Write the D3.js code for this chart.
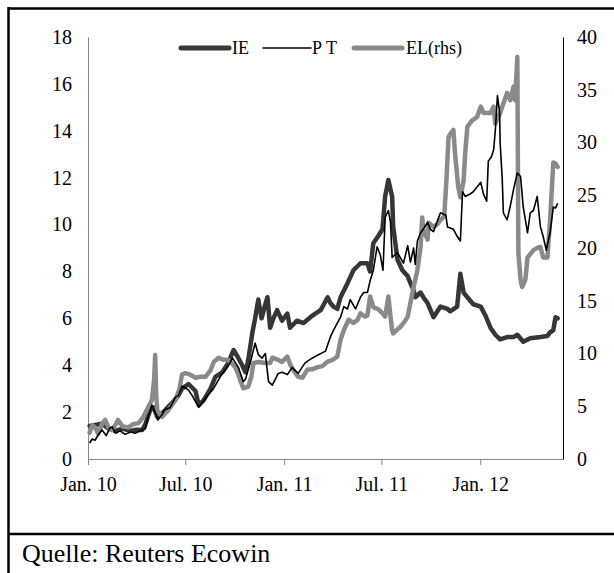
<!DOCTYPE html>
<html>
<head>
<meta charset="utf-8">
<script src="https://cdn.jsdelivr.net/npm/d3@7"></script>
<style>
  body { margin: 0; background: #fff; }
  text { font-family: "Liberation Serif", "Times New Roman", serif; fill: #000; }
</style>
</head>
<body>
<div id="chart"></div>
<script>
// Spreads, IE and PT on the left axis, EL on the right (rhs)
const ieData = [
  ["2010-01-04", 1.41], ["2010-01-14", 1.45], ["2010-01-27", 1.5], ["2010-02-08", 1.3],
  ["2010-02-21", 1.2], ["2010-03-06", 1.3], ["2010-03-21", 1.2], ["2010-04-01", 1.25],
  ["2010-04-12", 1.24], ["2010-04-18", 1.5], ["2010-04-27", 2.1], ["2010-05-03", 2.2],
  ["2010-05-10", 1.8], ["2010-05-19", 1.95], ["2010-05-29", 2.2], ["2010-06-07", 2.4],
  ["2010-06-18", 2.7], ["2010-06-25", 3.0], ["2010-07-07", 3.2], ["2010-07-20", 2.9],
  ["2010-07-26", 2.3], ["2010-08-04", 2.5], ["2010-08-17", 3.0], ["2010-08-26", 3.5],
  ["2010-09-08", 3.7], ["2010-09-19", 4.1], ["2010-09-29", 4.65], ["2010-10-08", 4.3],
  ["2010-10-15", 4.0], ["2010-10-21", 3.7], ["2010-10-26", 4.2], ["2010-11-03", 5.4],
  ["2010-11-08", 6.0], ["2010-11-14", 6.8], ["2010-11-20", 6.0], ["2010-11-27", 6.6],
  ["2010-12-01", 6.9], ["2010-12-06", 5.6], ["2010-12-12", 6.0], ["2010-12-19", 6.35],
  ["2010-12-28", 5.9], ["2011-01-07", 6.2], ["2011-01-12", 5.6], ["2011-01-25", 5.9],
  ["2011-02-06", 5.8], ["2011-02-19", 6.05], ["2011-02-28", 6.2], ["2011-03-10", 6.35],
  ["2011-03-23", 6.9], ["2011-03-28", 6.65], ["2011-04-03", 6.5], ["2011-04-10", 6.4],
  ["2011-04-16", 6.9], ["2011-04-29", 7.5], ["2011-05-10", 8.05], ["2011-05-23", 8.35],
  ["2011-06-05", 8.35], ["2011-06-10", 8.0], ["2011-06-16", 9.2], ["2011-06-25", 9.5],
  ["2011-07-03", 9.8], ["2011-07-08", 11.2], ["2011-07-14", 11.9], ["2011-07-18", 11.5],
  ["2011-07-21", 11.2], ["2011-07-23", 9.9], ["2011-07-31", 8.5], ["2011-08-09", 8.05],
  ["2011-08-19", 7.8], ["2011-08-24", 7.5], ["2011-08-30", 7.2], ["2011-09-02", 6.9],
  ["2011-09-12", 7.1], ["2011-09-17", 6.9], ["2011-09-25", 6.65], ["2011-10-06", 6.05],
  ["2011-10-19", 6.5], ["2011-11-01", 6.4], ["2011-11-06", 6.3], ["2011-11-19", 6.5],
  ["2011-11-25", 7.9], ["2011-12-01", 7.1], ["2011-12-08", 6.9], ["2011-12-19", 6.6],
  ["2012-01-02", 6.5], ["2012-01-11", 6.1], ["2012-01-20", 5.6], ["2012-01-29", 5.3],
  ["2012-02-07", 5.1], ["2012-02-20", 5.2], ["2012-03-03", 5.2], ["2012-03-10", 5.3],
  ["2012-03-21", 5.0], ["2012-04-03", 5.15], ["2012-04-22", 5.2], ["2012-05-05", 5.25],
  ["2012-05-10", 5.4], ["2012-05-16", 5.5], ["2012-05-20", 6.05], ["2012-05-24", 6.0]
];

const ptData = [
  ["2010-01-04", 0.68], ["2010-01-09", 0.85], ["2010-01-14", 0.8], ["2010-01-22", 1.1],
  ["2010-01-27", 1.24], ["2010-02-04", 1.0], ["2010-02-10", 1.3], ["2010-02-15", 1.37],
  ["2010-02-21", 1.1], ["2010-03-02", 1.2], ["2010-03-11", 1.05], ["2010-03-21", 1.15],
  ["2010-03-30", 1.1], ["2010-04-08", 1.2], ["2010-04-18", 1.3], ["2010-04-23", 1.8],
  ["2010-04-30", 2.3], ["2010-05-06", 2.0], ["2010-05-11", 1.66], ["2010-05-19", 1.9],
  ["2010-05-24", 2.1], ["2010-06-03", 2.2], ["2010-06-13", 2.65], ["2010-06-18", 2.7],
  ["2010-06-25", 3.1], ["2010-07-07", 2.95], ["2010-07-14", 2.7], ["2010-07-26", 2.2],
  ["2010-08-08", 2.6], ["2010-08-21", 2.95], ["2010-08-30", 3.3], ["2010-09-08", 3.65],
  ["2010-09-17", 3.9], ["2010-09-27", 4.3], ["2010-10-08", 3.9], ["2010-10-17", 3.3],
  ["2010-10-21", 3.4], ["2010-10-30", 4.1], ["2010-11-08", 4.95], ["2010-11-14", 4.45],
  ["2010-11-21", 4.3], ["2010-11-27", 4.5], ["2010-12-03", 3.3], ["2010-12-10", 3.15],
  ["2010-12-21", 3.65], ["2010-12-28", 3.7], ["2011-01-07", 3.6], ["2011-01-16", 3.9],
  ["2011-01-27", 3.65], ["2011-02-09", 4.1], ["2011-02-22", 4.3], ["2011-03-06", 4.45],
  ["2011-03-19", 4.6], ["2011-03-28", 5.2], ["2011-04-03", 5.5], ["2011-04-10", 5.8],
  ["2011-04-16", 6.05], ["2011-04-22", 6.5], ["2011-04-29", 6.4], ["2011-05-04", 6.8],
  ["2011-05-14", 6.4], ["2011-05-23", 6.9], ["2011-05-29", 7.1], ["2011-06-05", 7.1],
  ["2011-06-10", 7.6], ["2011-06-16", 8.05], ["2011-06-23", 9.05], ["2011-06-29", 8.7],
  ["2011-07-04", 8.05], ["2011-07-08", 10.3], ["2011-07-14", 10.6], ["2011-07-18", 10.1],
  ["2011-07-21", 8.6], ["2011-07-31", 8.8], ["2011-08-05", 8.6], ["2011-08-11", 8.35],
  ["2011-08-19", 9.1], ["2011-08-24", 8.4], ["2011-08-30", 9.0], ["2011-09-02", 8.3],
  ["2011-09-06", 9.3], ["2011-09-12", 9.65], ["2011-09-17", 9.8], ["2011-09-25", 10.1],
  ["2011-09-30", 9.8], ["2011-10-06", 9.7], ["2011-10-14", 10.2], ["2011-10-19", 10.5],
  ["2011-10-29", 10.4], ["2011-11-01", 9.9], ["2011-11-12", 9.8], ["2011-11-19", 9.5],
  ["2011-11-25", 9.3], ["2011-11-29", 11.4], ["2011-12-04", 11.2], ["2011-12-13", 11.3],
  ["2011-12-19", 11.4], ["2011-12-26", 11.6], ["2012-01-02", 11.8], ["2012-01-07", 11.3],
  ["2012-01-13", 11.0], ["2012-01-16", 12.7], ["2012-01-22", 12.9], ["2012-01-26", 13.2],
  ["2012-01-29", 14.0], ["2012-02-02", 15.5], ["2012-02-06", 14.8], ["2012-02-07", 13.5],
  ["2012-02-11", 11.9], ["2012-02-13", 10.5], ["2012-02-20", 10.2], ["2012-02-26", 10.8],
  ["2012-03-03", 11.5], ["2012-03-10", 12.2], ["2012-03-16", 12.05], ["2012-03-21", 10.75],
  ["2012-03-29", 9.65], ["2012-04-03", 10.5], ["2012-04-09", 10.6], ["2012-04-16", 11.2],
  ["2012-04-22", 9.9], ["2012-04-27", 9.5], ["2012-05-03", 8.9], ["2012-05-07", 9.35],
  ["2012-05-10", 9.65], ["2012-05-16", 10.75], ["2012-05-20", 10.7], ["2012-05-24", 10.9]
];

const elData = [
  ["2010-01-04", 2.5], ["2010-01-09", 3.2], ["2010-01-14", 3.0], ["2010-01-20", 2.4],
  ["2010-01-27", 3.3], ["2010-02-02", 3.7], ["2010-02-08", 3.0], ["2010-02-15", 2.75],
  ["2010-02-23", 3.4], ["2010-02-26", 3.7], ["2010-03-06", 3.1], ["2010-03-17", 3.0],
  ["2010-03-26", 3.3], ["2010-04-05", 3.4], ["2010-04-14", 4.0], ["2010-04-23", 4.9],
  ["2010-04-30", 5.6], ["2010-05-04", 7.5], ["2010-05-06", 9.85], ["2010-05-08", 6.0],
  ["2010-05-10", 4.6], ["2010-05-19", 4.0], ["2010-05-30", 4.6], ["2010-06-13", 5.6],
  ["2010-06-20", 6.6], ["2010-06-25", 8.0], ["2010-07-01", 8.15], ["2010-07-10", 8.0],
  ["2010-07-20", 7.7], ["2010-07-29", 7.8], ["2010-08-08", 7.8], ["2010-08-17", 8.4],
  ["2010-08-23", 9.2], ["2010-09-01", 9.6], ["2010-09-10", 9.4], ["2010-09-19", 9.4],
  ["2010-09-27", 9.0], ["2010-10-02", 8.7], ["2010-10-08", 8.0], ["2010-10-11", 7.5],
  ["2010-10-17", 6.7], ["2010-10-26", 6.85], ["2010-11-01", 7.8], ["2010-11-05", 9.1],
  ["2010-11-14", 9.2], ["2010-11-27", 9.1], ["2010-12-06", 9.1], ["2010-12-10", 9.6],
  ["2010-12-21", 9.4], ["2010-12-28", 9.2], ["2011-01-07", 9.7], ["2011-01-12", 9.0],
  ["2011-01-18", 8.45], ["2011-01-27", 7.8], ["2011-02-04", 7.7], ["2011-02-13", 8.45],
  ["2011-02-22", 8.5], ["2011-03-04", 8.7], ["2011-03-13", 8.8], ["2011-03-22", 9.2],
  ["2011-04-01", 9.4], ["2011-04-10", 9.7], ["2011-04-16", 11.3], ["2011-04-22", 12.2],
  ["2011-05-01", 13.2], ["2011-05-10", 12.9], ["2011-05-18", 13.2], ["2011-05-23", 13.8],
  ["2011-06-01", 13.5], ["2011-06-05", 13.6], ["2011-06-10", 15.4], ["2011-06-16", 14.4],
  ["2011-06-25", 14.2], ["2011-07-03", 13.8], ["2011-07-08", 13.5], ["2011-07-14", 15.4],
  ["2011-07-18", 13.5], ["2011-07-21", 12.2], ["2011-07-23", 11.9], ["2011-07-31", 12.3],
  ["2011-08-05", 12.5], ["2011-08-13", 13.0], ["2011-08-19", 13.5], ["2011-08-24", 14.8],
  ["2011-08-30", 16.3], ["2011-09-06", 17.9], ["2011-09-12", 20.1], ["2011-09-15", 22.9],
  ["2011-09-17", 21.7], ["2011-09-25", 20.8], ["2011-09-27", 22.4], ["2011-10-06", 22.0],
  ["2011-10-14", 22.3], ["2011-10-19", 22.65], ["2011-10-26", 23.0], ["2011-10-30", 26.4],
  ["2011-11-03", 30.5], ["2011-11-06", 30.8], ["2011-11-12", 31.2], ["2011-11-15", 29.0],
  ["2011-11-21", 25.8], ["2011-11-25", 24.8], ["2011-12-01", 26.4], ["2011-12-04", 29.0],
  ["2011-12-08", 31.5], ["2011-12-17", 32.1], ["2011-12-26", 32.4], ["2012-01-02", 33.4],
  ["2012-01-07", 32.8], ["2012-01-20", 32.8], ["2012-01-26", 33.4], ["2012-01-29", 31.8],
  ["2012-02-07", 32.8], ["2012-02-13", 33.7], ["2012-02-20", 34.7], ["2012-02-26", 34.0],
  ["2012-03-03", 35.3], ["2012-03-06", 34.0], ["2012-03-10", 38.1], ["2012-03-12", 19.5],
  ["2012-03-16", 17.0], ["2012-03-19", 16.3], ["2012-03-25", 17.0], ["2012-03-29", 19.1],
  ["2012-04-09", 19.8], ["2012-04-16", 20.0], ["2012-04-22", 20.1], ["2012-04-27", 19.1],
  ["2012-05-05", 19.1], ["2012-05-10", 22.65], ["2012-05-16", 28.1], ["2012-05-20", 28.0],
  ["2012-05-24", 27.7]
];

const leftTicks = [0, 2, 4, 6, 8, 10, 12, 14, 16, 18];
const rightTicks = [0, 5, 10, 15, 20, 25, 30, 35, 40];
const xTickDates = ["2010-01-01", "2010-07-01", "2011-01-01", "2011-07-01", "2012-01-01"];
const xTickLabels = ["Jan. 10", "Jul. 10", "Jan. 11", "Jul. 11", "Jan. 12"];
const seriesNames = ["IE", "PT", "EL(rhs)"];
const source = "Quelle: Reuters Ecowin";

const parse = d3.timeParse("%Y-%m-%d");

const W = 614, H = 573;
const plot = { left: 88, right: 563, top: 37, bottom: 459 };

const svg = d3.select("#chart")
  .append("svg")
  .attr("width", W)
  .attr("height", H);

svg.append("rect").attr("width", W).attr("height", H).attr("fill", "#fff");

// frame of the surrounding table
svg.append("line").attr("x1", 8).attr("x2", W).attr("y1", 8.5).attr("y2", 8.5)
  .attr("stroke", "#000").attr("stroke-width", 2.5);
svg.append("line").attr("x1", 8.5).attr("x2", 8.5).attr("y1", 7).attr("y2", H)
  .attr("stroke", "#000").attr("stroke-width", 2.5);
svg.append("line").attr("x1", 8).attr("x2", W).attr("y1", 534).attr("y2", 534)
  .attr("stroke", "#000").attr("stroke-width", 2.5);

// scales
const x = d3.scaleTime()
  .domain([parse("2010-01-01"), parse("2012-06-03")])
  .range([plot.left, plot.right]);
const yL = d3.scaleLinear().domain([0, 18]).range([plot.bottom, plot.top]);
const yR = d3.scaleLinear().domain([0, 40]).range([plot.bottom, plot.top]);

// axes
const axisColor = "#868686";
const gx = svg.append("g")
  .attr("transform", `translate(0, ${plot.bottom})`)
  .call(d3.axisBottom(x)
    .tickValues(xTickDates.map(parse))
    .tickFormat((d, i) => xTickLabels[i])
    .tickSize(6).tickSizeOuter(0).tickPadding(12));
gx.select(".domain").attr("stroke", axisColor);
gx.selectAll(".tick line").attr("stroke", axisColor);
gx.selectAll("text").attr("font-size", 20).attr("font-family", "Liberation Serif").attr("fill", "#000");

const gl = svg.append("g")
  .attr("transform", `translate(${plot.left}, 0)`)
  .call(d3.axisLeft(yL).tickValues(leftTicks).tickSize(0).tickPadding(16));
gl.select(".domain").attr("stroke", axisColor);
gl.selectAll("text").attr("font-size", 20).attr("font-family", "Liberation Serif").attr("fill", "#000");

const gr = svg.append("g")
  .attr("transform", `translate(${plot.right}, 0)`)
  .call(d3.axisRight(yR).tickValues(rightTicks).tickSize(0).tickPadding(14));
gr.select(".domain").attr("stroke", "#000");
gr.selectAll("text").attr("font-size", 20).attr("font-family", "Liberation Serif").attr("fill", "#000");

// lines
const lineL = d3.line().x(d => x(parse(d[0]))).y(d => yL(d[1]));
const lineR = d3.line().x(d => x(parse(d[0]))).y(d => yR(d[1]));

svg.append("path").datum(ieData)
  .attr("fill", "none").attr("stroke", "#363636").attr("stroke-width", 4.5)
  .attr("stroke-linejoin", "round").attr("stroke-linecap", "round")
  .attr("d", lineL);

svg.append("path").datum(elData)
  .attr("fill", "none").attr("stroke", "#8a8a8a").attr("stroke-width", 4.5)
  .attr("stroke-linejoin", "round").attr("stroke-linecap", "round")
  .attr("d", lineR);

svg.append("path").datum(ptData)
  .attr("fill", "none").attr("stroke", "#000").attr("stroke-width", 1.6)
  .attr("stroke-linejoin", "round")
  .attr("d", lineL);

// legend
const legend = [
  { name: seriesNames[0], color: "#363636", width: 5, x: 181, tx: 232 },
  { name: seriesNames[1], color: "#000", width: 1.6, x: 263, tx: 312 },
  { name: seriesNames[2], color: "#8a8a8a", width: 5, x: 354, tx: 406 }
];
const lg = svg.append("g");
legend.forEach(l => {
  lg.append("line").attr("x1", l.x).attr("x2", l.x + 48).attr("y1", 48).attr("y2", 48)
    .attr("stroke", l.color).attr("stroke-width", l.width).attr("stroke-linecap", "round");
  lg.append("text").attr("x", l.tx).attr("y", 54).attr("font-size", 18)
    .attr("letter-spacing", l.name === "PT" ? 4 : 0)
    .text(l.name);
});

// source
svg.append("text").attr("x", 22).attr("y", 562).attr("font-size", 26).text(source);
</script>
</body>
</html>
